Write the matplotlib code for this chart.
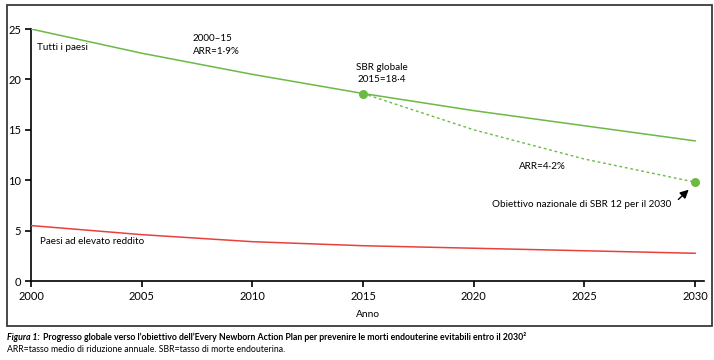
import matplotlib
matplotlib.use("Agg")
import matplotlib.pyplot as plt
from matplotlib.patches import Rectangle

plt.rcParams['font.family'] = ['Lato', 'DejaVu Sans']

years = [2000, 2005, 2010, 2015, 2020, 2025, 2030]
all_countries = [25.0, 22.6, 20.5, 18.6, 16.9, 15.4, 13.9]
high_income = [5.5, 4.6, 3.9, 3.5, 3.25, 3.0, 2.75]
target_years = [2015, 2020, 2025, 2030]
target_path = [18.6, 15.0, 12.1, 9.8]
xticks = [2000, 2005, 2010, 2015, 2020, 2025, 2030]
yticks = [0, 5, 10, 15, 20, 25]

GREEN = '#6cb944'
RED = '#e8413c'

fig = plt.figure(figsize=(7.14, 3.6), dpi=100)
W, H = 714, 360
ax = fig.add_axes([31 / W, 1 - 281 / H, (704 - 31) / W, (281 - 29) / H])

ax.plot(years, all_countries, color=GREEN, lw=1.1, zorder=3)
ax.plot(years, high_income, color=RED, lw=1.1, zorder=3)
ax.plot(target_years, target_path, color=GREEN, lw=1.0, ls=(0, (2, 2)), zorder=3)
ax.plot([target_years[0], target_years[-1]], [target_path[0], target_path[-1]],
        'o', color=GREEN, ms=6.5, mec='none', zorder=4, clip_on=False)

ax.set_xlim(2000, 2030.4)
ax.set_ylim(0, 25)
ax.set_xticks(xticks)
ax.set_yticks(yticks)
for s in ['top', 'right']:
    ax.spines[s].set_visible(False)
for s in ['left', 'bottom']:
    ax.spines[s].set_linewidth(1.2)
ax.tick_params(direction='out', length=4, width=1.2, labelsize=8, pad=3)
ax.set_xlabel('Anno', fontsize=7.3, labelpad=6)

fs = 7.1
ax.text(2000.25, 23.2, 'Tutti i paesi', fontsize=fs, va='center', ha='left')
ax.text(2007.3, 24.1, '2000–15', fontsize=fs, va='center', ha='left')
ax.text(2007.3, 22.8, 'ARR=1·9%', fontsize=fs, va='center', ha='left')
ax.text(2015.85, 21.2, 'SBR globale', fontsize=fs, va='center', ha='center')
ax.text(2015.85, 20.0, '2015=18·4', fontsize=fs, va='center', ha='center')
ax.text(2023.1, 11.4, 'ARR=4·2%', fontsize=fs, va='center', ha='center')
ax.text(2028.9, 7.6, 'Obiettivo nazionale di SBR 12 per il 2030', fontsize=fs,
        va='center', ha='right')
ax.annotate('', xy=(2029.8, 9.25), xytext=(2029.15, 7.9),
            arrowprops=dict(arrowstyle='-|>,head_length=0.5,head_width=0.25',
                            color='black', lw=1.0))
ax.text(2000.4, 3.87, 'Paesi ad elevato reddito', fontsize=fs, va='center', ha='left')

box = Rectangle((7 / W, 1 - 326 / H), (712 - 7) / W, (326 - 5) / H,
                transform=fig.transFigure, fill=False, ec='#3a3a3a', lw=1.3)
fig.patches.append(box)

cfs = 6.3
t1 = fig.text(7 / W, 1 - 337 / H, 'Figura 1:', fontsize=cfs, fontweight='bold',
              fontstyle='italic', va='center', ha='left')
fig.canvas.draw()
bb = t1.get_window_extent()
fig.text((bb.x1 + 3) / W, 1 - 337 / H,
         "Progresso globale verso l’obiettivo dell’Every Newborn Action Plan per prevenire le morti endouterine evitabili entro il 2030²",
         fontsize=cfs, fontweight='bold', va='center', ha='left')
fig.text(7 / W, 1 - 350 / H,
         'ARR=tasso medio di riduzione annuale. SBR=tasso di morte endouterina.',
         fontsize=cfs, va='center', ha='left')

fig.savefig('out.png', dpi=100)
